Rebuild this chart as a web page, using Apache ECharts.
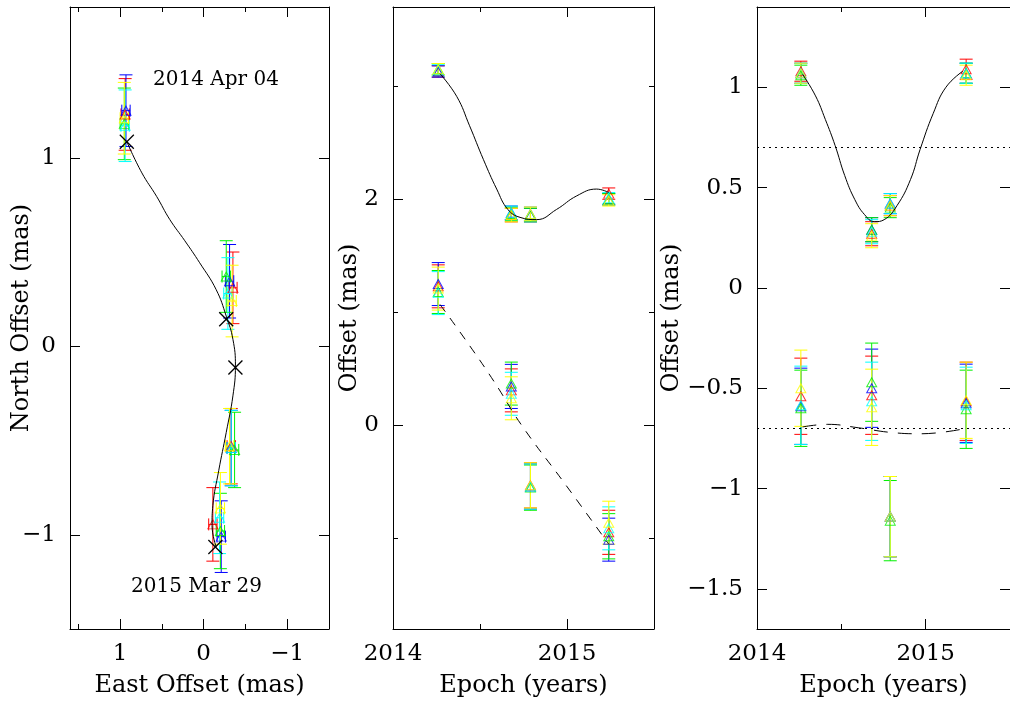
<!DOCTYPE html>
<html>
<head>
<meta charset="utf-8">
<script src="https://cdn.jsdelivr.net/npm/echarts@6/dist/echarts.min.js"></script>
<style>
html, body { margin: 0; padding: 0; background: #fff; }
#chart { width: 1010px; height: 704px; }
</style>
</head>
<body>
<div id="chart"></div>
<script>
// epochs of the four observations (years)
var epochs = [2014.26, 2014.68, 2014.79, 2015.24];
var bandNames = ['red', 'blue', 'green', 'cyan', 'yellow'];

// panel 1: sky positions, one row per series, one column per epoch
var eastOff = [
	[0.94, -0.35, -0.33, -0.11],
	[0.93, -0.31, -0.33, -0.21],
	[0.95, -0.27, -0.37, -0.20],
	[0.94, -0.29, -0.33, -0.19],
	[0.95, -0.34, -0.31, -0.20]
];
var eastErr = [
	[0.05, 0.05, 0.05, 0.05],
	[0.05, 0.05, 0.05, 0.05],
	[0.05, 0.05, 0.05, 0.05],
	[0.05, 0.05, 0.05, 0.05],
	[0.05, 0.05, 0.05, 0.05]
];
var northOff = [
	[1.23, 0.31, -0.53, -0.945],
	[1.25, 0.345, -0.54, -1.01],
	[1.18, 0.37, -0.55, -0.98],
	[1.17, 0.28, -0.54, -0.91],
	[1.21, 0.24, -0.53, -0.86]
];
var northErr = [
	[0.19, 0.19, 0.20, 0.195],
	[0.19, 0.195, 0.20, 0.19],
	[0.19, 0.19, 0.20, 0.20],
	[0.19, 0.19, 0.20, 0.19],
	[0.19, 0.19, 0.20, 0.19]
];

// panel 2 upper group (east offset, shifted)
var raOff = [
	[3.13, 1.86, 1.87, 2.05],
	[3.13, 1.88, 1.86, 2.00],
	[3.15, 1.87, 1.86, 2.00],
	[3.14, 1.88, 1.87, 2.01],
	[3.15, 1.86, 1.87, 1.99]
];
var raErr = [
	[0.05, 0.06, 0.06, 0.05],
	[0.05, 0.06, 0.06, 0.05],
	[0.05, 0.06, 0.06, 0.05],
	[0.05, 0.06, 0.06, 0.05],
	[0.05, 0.06, 0.06, 0.05]
];

// panel 3: residual offsets
var raRes = [
	[1.08, 0.27, 0.41, 1.09],
	[1.07, 0.29, 0.42, 1.07],
	[1.06, 0.29, 0.40, 1.07],
	[1.07, 0.28, 0.42, 1.07],
	[1.07, 0.26, 0.41, 1.06]
];
var raResErr = [
	[0.05, 0.06, 0.05, 0.05],
	[0.05, 0.06, 0.05, 0.05],
	[0.05, 0.06, 0.05, 0.05],
	[0.05, 0.06, 0.05, 0.05],
	[0.05, 0.06, 0.05, 0.05]
];
var decRes = [
	[-0.54, -0.535, -1.14, -0.565],
	[-0.59, -0.50, -1.14, -0.575],
	[-0.60, -0.47, -1.16, -0.605],
	[-0.585, -0.565, -1.14, -0.585],
	[-0.50, -0.595, -1.14, -0.56]
];
var decResErr = [
	[0.19, 0.195, 0.20, 0.195],
	[0.19, 0.195, 0.20, 0.195],
	[0.19, 0.195, 0.20, 0.195],
	[0.195, 0.195, 0.20, 0.19],
	[0.19, 0.19, 0.20, 0.19]
];

// model curves
var trackEN = [[0.92, 1.085], [0.74, 0.92], [0.563, 0.795], [0.405, 0.672], [0.226, 0.56],
	[0.048, 0.443], [-0.15, 0.30], [-0.27, 0.16], [-0.35, 0.037], [-0.38, -0.104], [-0.35, -0.263],
	[-0.27, -0.457], [-0.18, -0.66], [-0.11, -0.845], [-0.10, -0.95], [-0.15, -1.065]];
var markEast = [0.92, -0.27, -0.38, -0.14];
var markNorth = [1.085, 0.143, -0.113, -1.065];

var modelRa = [[2014.27, 3.11], [2014.366, 2.91], [2014.44, 2.65], [2014.52, 2.35], [2014.596, 2.09],
	[2014.66, 1.91], [2014.73, 1.84], [2014.826, 1.82], [2014.94, 1.91], [2015.056, 2.03],
	[2015.17, 2.09], [2015.24, 2.06]];
var modelDec = [[2014.27, 1.07], [2014.42, 0.75], [2014.58, 0.39], [2014.74, 0.0], [2014.99, -0.52], [2015.24, -1.05]];
var modelRaRes = [[2014.27, 1.065], [2014.347, 0.957], [2014.405, 0.84], [2014.463, 0.71], [2014.52, 0.56],
	[2014.58, 0.44], [2014.638, 0.365], [2014.696, 0.33], [2014.754, 0.34], [2014.83, 0.41],
	[2014.91, 0.54], [2014.967, 0.69], [2015.045, 0.87], [2015.12, 1.0], [2015.22, 1.08]];
var modelDecRes = [[2014.27, -0.693], [2014.42, -0.68], [2014.6, -0.697], [2014.79, -0.72], [2014.97, -0.727], [2015.24, -0.70]];
var levels = [0.7, -0.7];

// tick values
var eastMajor = [1, 0, -1], eastMinor = [1.5, 0.5, -0.5];
var northMajor = [1, 0, -1];
var yearMajor = [2014, 2015], yearMinor = [2014.5];
var offMajor = [2, 0], offMinor = [3, 1, -1];
var resMajor = [1, 0.5, 0, -0.5, -1, -1.5];

var colorOf = { red: '#ff0000', blue: '#0000ff', green: '#00f000', cyan: '#00ffff', yellow: '#ffff00' };
var FONT = 'DejaVu Serif';

function fmt(v) {
	return String(v).replace('-', '\u2212');
}

function boxAxes(dim, grid, min, max, major, minor, inverse, name, nameGap) {
	var mainPos = dim == 'x' ? 'bottom' : 'left';
	var oppPos = dim == 'x' ? 'top' : 'right';
	function ax(pos, vals, len, withLabel, withLine) {
		return {
			type: 'value', gridIndex: grid, position: pos, min: min, max: max, inverse: !!inverse,
			splitLine: { show: false },
			axisLine: { show: withLine, onZero: false, lineStyle: { color: '#000', width: 1 } },
			axisTick: { show: vals.length > 0, inside: true, length: len, customValues: vals,
				lineStyle: { color: '#000', width: 1 } },
			axisLabel: withLabel ? { show: true, customValues: major, formatter: fmt, color: '#000',
				fontFamily: FONT, fontSize: 23, margin: 14 } : { show: false },
			name: withLabel ? name : '',
			nameLocation: 'middle',
			nameGap: nameGap,
			nameMoveOverlap: false,
			nameTextStyle: { color: '#000', fontFamily: FONT, fontSize: 24 }
		};
	}
	return [
		ax(mainPos, major, 10, true, true),
		ax(mainPos, minor, 5, false, false),
		ax(oppPos, major, 10, false, true),
		ax(oppPos, minor, 5, false, false)
	];
}

var grids = [
	{ left: 70, top: 7, width: 259, height: 622 },
	{ left: 393, top: 7, width: 261, height: 622 },
	{ left: 757, top: 7, width: 258, height: 622 }
];

var xAxes = [].concat(
	boxAxes('x', 0, -1.5, 1.6, eastMajor, eastMinor, true, 'East Offset (mas)', 45),
	boxAxes('x', 1, 2014, 2015.5, yearMajor, yearMinor, false, 'Epoch (years)', 45),
	boxAxes('x', 2, 2014, 2015.5, yearMajor, yearMinor, false, 'Epoch (years)', 45)
);
var yAxes = [].concat(
	boxAxes('y', 0, -1.5, 1.8, northMajor, [], false, 'North Offset (mas)', 36),
	boxAxes('y', 1, -1.8, 3.7, offMajor, offMinor, false, 'Offset (mas)', 31),
	boxAxes('y', 2, -1.7, 1.4, resMajor, [], false, 'Offset (mas)', 73)
);

function barItem(xErr) {
	return function (params, api) {
		var x = api.value(0), y = api.value(1), ey = api.value(2), ex = api.value(3);
		var c = api.visual('color');
		var st = { stroke: c, lineWidth: 1 };
		var lo = api.coord([x, y - ey]), hi = api.coord([x, y + ey]);
		var kids = [
			{ type: 'line', shape: { x1: lo[0], y1: lo[1], x2: hi[0], y2: hi[1] }, style: st },
			{ type: 'line', shape: { x1: lo[0] - 6.5, y1: lo[1], x2: lo[0] + 6.5, y2: lo[1] }, style: st },
			{ type: 'line', shape: { x1: hi[0] - 6.5, y1: hi[1], x2: hi[0] + 6.5, y2: hi[1] }, style: st }
		];
		if (xErr) {
			var l = api.coord([x - ex, y]), r = api.coord([x + ex, y]);
			kids.push({ type: 'line', shape: { x1: l[0], y1: l[1], x2: r[0], y2: r[1] }, style: st });
			kids.push({ type: 'line', shape: { x1: l[0], y1: l[1] - 6, x2: l[0], y2: l[1] + 6 }, style: st });
			kids.push({ type: 'line', shape: { x1: r[0], y1: r[1] - 6, x2: r[0], y2: r[1] + 6 }, style: st });
		}
		return { type: 'group', children: kids };
	};
}

var series = [];

function addGroup(grid, xs, ys, errs, xerrs) {
	var g = grid * 4;
	for (var b = 0; b < bandNames.length; b++) {
		var col = colorOf[bandNames[b]];
		var rows = [];
		var pts = [];
		for (var i = 0; i < epochs.length; i++) {
			var xv = xs ? xs[b][i] : epochs[i];
			rows.push([xv, ys[b][i], errs[b][i], xerrs ? xerrs[b][i] : 0]);
			pts.push([xv, ys[b][i]]);
		}
		series.push({
			type: 'custom', name: bandNames[b], xAxisIndex: g, yAxisIndex: g,
			renderItem: barItem(!!xerrs), data: rows, itemStyle: { color: col }, silent: true, z: 2
		});
		series.push({
			type: 'scatter', name: bandNames[b], xAxisIndex: g, yAxisIndex: g, data: pts,
			symbol: 'triangle', symbolSize: [10, 9],
			itemStyle: { color: 'rgba(0,0,0,0)', borderColor: col, borderWidth: 1 }, silent: true, z: 3
		});
	}
}

function addCurve(grid, pts, dash) {
	series.push({
		type: 'line', xAxisIndex: grid * 4, yAxisIndex: grid * 4, data: pts, showSymbol: false,
		smooth: 0.45, silent: true, z: 4,
		lineStyle: { color: '#000', width: 1, type: dash || 'solid' }
	});
}

// panel 1
addCurve(0, trackEN);
addGroup(0, eastOff, northOff, northErr, eastErr);
series.push({
	type: 'custom', xAxisIndex: 0, yAxisIndex: 0, silent: true, z: 5,
	data: markEast.map(function (e, i) { return [e, markNorth[i]]; }),
	renderItem: function (params, api) {
		var p = api.coord([api.value(0), api.value(1)]);
		var st = { stroke: '#000', lineWidth: 1.3 };
		return { type: 'group', children: [
			{ type: 'line', shape: { x1: p[0] - 7, y1: p[1] - 7, x2: p[0] + 7, y2: p[1] + 7 }, style: st },
			{ type: 'line', shape: { x1: p[0] - 7, y1: p[1] + 7, x2: p[0] + 7, y2: p[1] - 7 }, style: st }
		] };
	}
});

// panel 2
addCurve(1, modelRa);
addCurve(1, modelDec, [9, 8]);
addGroup(1, null, raOff, raErr);
addGroup(1, null, northOff, northErr);

// panel 3
addCurve(2, modelRaRes);
addCurve(2, modelDecRes, [14, 10]);
addGroup(2, null, raRes, raResErr);
addGroup(2, null, decRes, decResErr);
series.push({
	type: 'line', xAxisIndex: 8, yAxisIndex: 8, data: [], silent: true,
	markLine: {
		symbol: 'none', silent: true, label: { show: false },
		lineStyle: { color: '#000', width: 1, type: [2, 4] },
		data: levels.map(function (v) { return { yAxis: v }; })
	}
});

var myChart = echarts.init(document.getElementById('chart'));
myChart.setOption({
	animation: false,
	backgroundColor: '#fff',
	grid: grids,
	xAxis: xAxes,
	yAxis: yAxes,
	series: series,
	graphic: [
		{ type: 'text', left: 153, top: 70, style: { text: '2014 Apr 04', fill: '#000', font: '20px "DejaVu Serif"' } },
		{ type: 'text', left: 131, top: 577, style: { text: '2015 Mar 29', fill: '#000', font: '20px "DejaVu Serif"' } }
	]
});
</script>
</body>
</html>
